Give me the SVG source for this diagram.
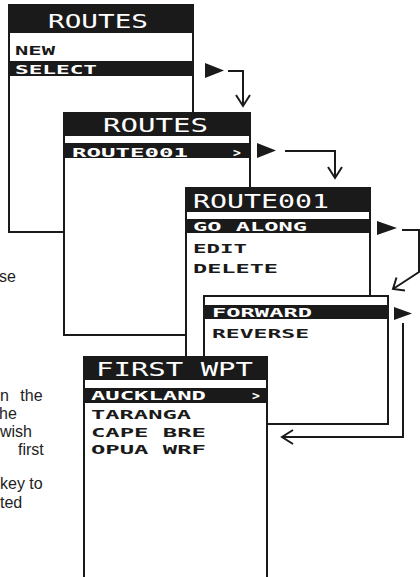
<svg xmlns="http://www.w3.org/2000/svg" width="420" height="577" viewBox="0 0 420 577">
<style>
.frame{fill:#fff;stroke:#1a1a1a;stroke-width:2}
.bar{fill:#1a1a1a}
.title{font-family:"DejaVu Sans Mono",monospace;font-size:20px;fill:#fff}
.item{font-family:"DejaVu Sans Mono",monospace;font-size:13px;font-weight:bold;fill:#1a1a1a}
.sel{fill:#fff}
.body{font-family:"Liberation Sans",Arial,sans-serif;font-size:16px;fill:#222}
.line{fill:none;stroke:#1a1a1a;stroke-width:2}
.tri{fill:#1a1a1a}
</style>
<g id="side-text">
<text class="body" x="-1" y="282">se</text>
<text class="body" x="0" y="401" word-spacing="7">n the</text>
<text class="body" x="-1" y="419">he</text>
<text class="body" x="0" y="437">wish</text>
<text class="body" x="18" y="455">first</text>
<text class="body" x="0" y="489">key to</text>
<text class="body" x="0" y="508">ted</text>
</g>
<g id="screen-routes-1">
<rect class="frame" x="9" y="5" width="184" height="227"/>
<rect class="bar" x="8" y="4" width="186" height="29"/>
<rect class="bar" x="8" y="61" width="186" height="15"/>
<text class="title" x="48" y="28" textLength="100" lengthAdjust="spacingAndGlyphs">ROUTES</text>
<text class="item" x="15" y="55" textLength="40" lengthAdjust="spacingAndGlyphs">NEW</text>
<text class="item sel" x="15" y="74" textLength="82" lengthAdjust="spacingAndGlyphs">SELECT</text>
</g>
<g id="screen-routes-2">
<rect class="frame" x="64" y="113" width="186" height="222"/>
<rect class="bar" x="63" y="112" width="188" height="24"/>
<rect class="bar" x="63" y="143" width="187" height="15"/>
<text class="title" x="103" y="132" textLength="105" lengthAdjust="spacingAndGlyphs">ROUTES</text>
<text class="item sel" x="72" y="157" textLength="116" lengthAdjust="spacingAndGlyphs">ROUTE001</text>
<text class="item sel" x="233" y="157">&gt;</text>
</g>
<g id="screen-route001">
<rect class="frame" x="186" y="188" width="184" height="228"/>
<rect class="bar" x="185" y="187" width="186" height="25"/>
<rect class="bar" x="185" y="219" width="186" height="14"/>
<text class="title" x="193" y="208" textLength="136" lengthAdjust="spacingAndGlyphs">ROUTE001</text>
<text class="item sel" x="193" y="231" textLength="114" lengthAdjust="spacingAndGlyphs">GO ALONG</text>
<text class="item" x="193" y="253" textLength="54" lengthAdjust="spacingAndGlyphs">EDIT</text>
<text class="item" x="193" y="273" textLength="85" lengthAdjust="spacingAndGlyphs">DELETE</text>
</g>
<g id="screen-direction">
<rect class="frame" x="204" y="296" width="184" height="128"/>
<rect class="bar" x="203" y="305" width="186" height="14"/>
<text class="item sel" x="212" y="317" textLength="100" lengthAdjust="spacingAndGlyphs">FORWARD</text>
<text class="item" x="212" y="338" textLength="97" lengthAdjust="spacingAndGlyphs">REVERSE</text>
</g>
<g id="screen-first-wpt">
<rect class="frame" x="84" y="357" width="183" height="230"/>
<rect class="bar" x="83" y="356" width="185" height="24"/>
<rect class="bar" x="83" y="388" width="185" height="15"/>
<text class="title" x="96" y="376" textLength="157" lengthAdjust="spacingAndGlyphs">FIRST WPT</text>
<text class="item sel" x="91" y="400" textLength="115" lengthAdjust="spacingAndGlyphs">AUCKLAND</text>
<text class="item sel" x="252" y="400">&gt;</text>
<text class="item" x="91" y="419" textLength="100" lengthAdjust="spacingAndGlyphs">TARANGA</text>
<text class="item" x="91" y="437" textLength="115" lengthAdjust="spacingAndGlyphs">CAPE BRE</text>
<text class="item" x="91" y="454" textLength="115" lengthAdjust="spacingAndGlyphs">OPUA WRF</text>
</g>
<g id="connectors">
<polygon class="tri" points="205,63 205,78 224,70.5"/>
<path class="line" d="M228,71 H243 V105 M236,95 L243,106 L250,95"/>
<polygon class="tri" points="257,143 257,158 276,150.5"/>
<path class="line" d="M285,151 H335 V177 M328,167 L335,178 L342,167"/>
<polygon class="tri" points="377,221 377,235 397,228"/>
<path class="line" d="M402,230 H419 V272 L393,289 M405,290.5 L393,289 L396.5,277.5"/>
<polygon class="tri" points="394,307 394,320 412,313.5"/>
<path class="line" d="M403,323 V437 H282 M293,430 L282,437 L293,444"/>
</g>
</svg>
